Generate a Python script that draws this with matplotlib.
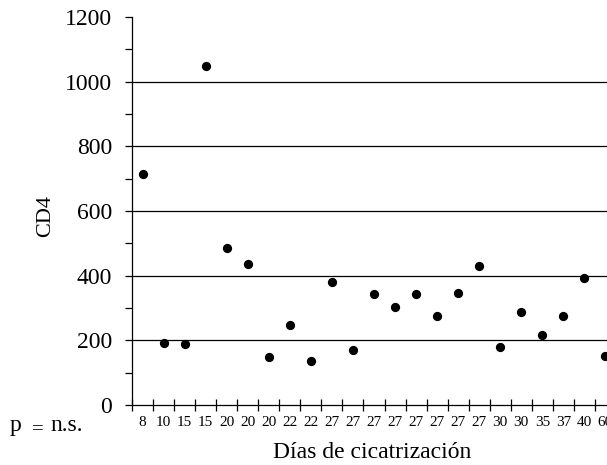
import matplotlib.pyplot as plt
from matplotlib.ticker import MultipleLocator

# dias de cicatrizacion (categorias) y valores CD4
dias = ["8", "10", "15", "15", "20", "20", "20", "22", "22",
        "27", "27", "27", "27", "27", "27", "27", "27",
        "30", "30", "35", "37", "40", "60"]
cd4 = [713, 192, 189, 1048, 486, 436, 148, 248, 135,
       381, 170, 343, 304, 343, 275, 345, 430,
       178, 287, 216, 275, 392, 153]

plt.rcParams['font.family'] = ['Liberation Serif', 'DejaVu Serif']

W, H = 607, 465
fig = plt.figure(figsize=(W / 100, H / 100), dpi=100)
ax = fig.add_axes([0.2175, 0.129, 0.7973, 0.8344])

x = list(range(len(dias)))
ax.scatter(x, cd4, s=32, color='black', zorder=3, clip_on=False)

ax.set_ylim(0, 1200)
ax.set_xlim(-0.5, len(dias) - 0.5)

for v in [200, 400, 600, 800, 1000]:
    ax.axhline(v, color='black', lw=0.9, zorder=1)

ax.yaxis.set_major_locator(MultipleLocator(200))
ax.yaxis.set_minor_locator(MultipleLocator(100))
ax.tick_params(axis='y', which='both', direction='out', length=5, width=0.9,
               labelsize=17, pad=9.5)

ax.set_xticks([i - 0.5 for i in range(len(dias) + 1)])
ax.set_xticklabels([])
ax.set_xticks(x, minor=True)
ax.set_xticklabels(dias, minor=True)
ax.tick_params(axis='x', which='major', direction='inout', length=9, width=0.9)
ax.tick_params(axis='x', which='minor', length=0, labelsize=11, pad=8)

ax.spines['top'].set_visible(False)
ax.spines['right'].set_visible(False)
ax.spines['left'].set_linewidth(0.9)
ax.spines['bottom'].set_linewidth(0.9)

# etiquetas de ejes colocadas a mano
fig.text(45.5 / W, 1 - 216 / H, "CD4", fontsize=16, rotation=90,
         ha='center', va='center')
fig.text(372 / W, 1 - 458 / H, "Días de cicatrización", fontsize=17,
         ha='center', va='baseline')

fig.text(10 / W, 1 - 431 / H, "p", fontsize=17, va='baseline')
fig.text(32 / W, 1 - 434 / H, "=", fontsize=15, va='baseline')
fig.text(50 / W, 1 - 431 / H, "n.s.", fontsize=17, va='baseline')

fig.savefig("out.png", dpi=100)
